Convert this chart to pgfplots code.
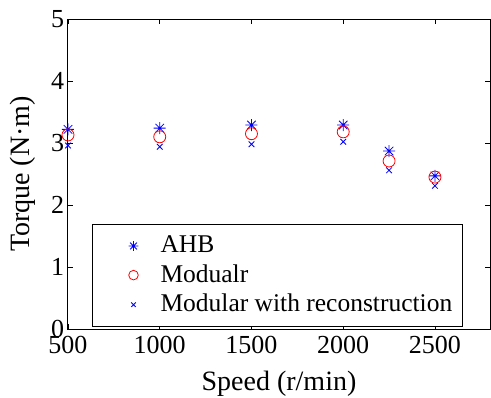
\documentclass[border=0pt]{standalone}
\usepackage{fontspec}
\setmainfont{Liberation Serif}
\usepackage{pgfplots}
\pgfplotsset{compat=1.18}
\pgfdeclareplotmark{mstar}{%
  \pgfpathmoveto{\pgfqpoint{-\pgfplotmarksize}{0pt}}\pgfpathlineto{\pgfqpoint{\pgfplotmarksize}{0pt}}%
  \pgfpathmoveto{\pgfqpoint{0pt}{-\pgfplotmarksize}}\pgfpathlineto{\pgfqpoint{0pt}{\pgfplotmarksize}}%
  \pgfpathmoveto{\pgfqpoint{-0.707\pgfplotmarksize}{-0.707\pgfplotmarksize}}\pgfpathlineto{\pgfqpoint{0.707\pgfplotmarksize}{0.707\pgfplotmarksize}}%
  \pgfpathmoveto{\pgfqpoint{-0.707\pgfplotmarksize}{0.707\pgfplotmarksize}}\pgfpathlineto{\pgfqpoint{0.707\pgfplotmarksize}{-0.707\pgfplotmarksize}}%
  \pgfusepathqstroke}
\begin{document}
\fontsize{26bp}{31bp}\selectfont
\begin{tikzpicture}
\begin{axis}[
  scale only axis,
  width=422bp, height=310bp,
  xmin=500, xmax=2800, ymin=0, ymax=5,
  xtick={500,1000,1500,2000,2500},
  ytick={0,1,2,3,4,5},
  tick align=inside,
  major tick length=5bp,
  axis line style={line width=1bp},
  every tick/.style={black, line width=0.8bp},
  /pgf/number format/assume math mode=true,
  /pgf/number format/1000 sep={},
  tick label style={font=\fontsize{26bp}{31bp}\selectfont},
  label style={font=\fontsize{28bp}{33bp}\selectfont},
  xlabel={Speed (r/min)},
  ylabel={Torque (N·m)},
  xticklabel style={yshift=2bp},
  yticklabel style={xshift=5bp},
  xlabel style={yshift=0bp},
  ylabel style={yshift=-2bp},
  clip=false,
  legend cell align=left,
  legend style={at={(rel axis cs:0.0569,0.0065)}, anchor=south west,
    draw=black, line width=1bp, inner xsep=8bp, inner ysep=9bp,
    row sep=4bp,
    font=\fontsize{25.5bp}{30bp}\selectfont},
  legend image code/.code={\path[draw=none] (0bp,0bp) -- (58bp,0bp);
    \draw[#1, mark size=0.8*\pgfplotmarksize] plot[only marks] coordinates {(33bp,0bp)};},
]
\addplot[only marks, blue, mark=mstar, mark size=6bp, line width=0.8bp] coordinates {
 (500,3.22) (1000,3.24) (1500,3.29) (2000,3.29) (2250,2.87) (2500,2.47)};
\addlegendentry{AHB}
\addplot[only marks, red, mark=o, mark size=6bp, line width=0.8bp] coordinates {
 (500,3.13) (1000,3.10) (1500,3.15) (2000,3.18) (2250,2.71) (2500,2.45)};
\addlegendentry{Modualr}
\addplot[only marks, blue, mark=x, mark size=4bp, line width=0.8bp] coordinates {
 (500,2.96) (1000,2.94) (1500,2.98) (2000,3.02) (2250,2.56) (2500,2.31)};
\addlegendentry{Modular with reconstruction}
\end{axis}
\pgfresetboundingbox
\path (current axis.south west) ++(-68bp,-69bp) rectangle ++(491bp,398bp);
\end{tikzpicture}
\end{document}
